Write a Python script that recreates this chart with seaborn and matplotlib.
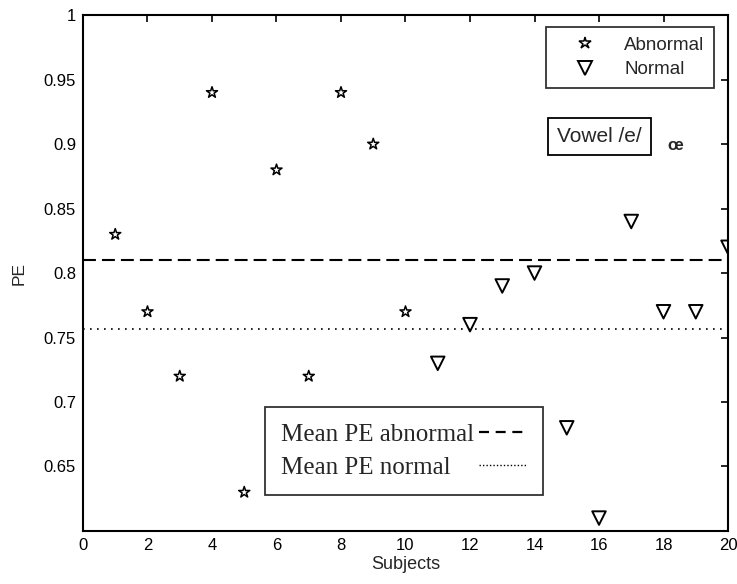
import numpy as np
import pandas as pd
import matplotlib
matplotlib.use("Agg")
import matplotlib.pyplot as plt
from matplotlib.lines import Line2D
import seaborn as sns

# PE per subject
abnormal_subjects = [1, 2, 3, 4, 5, 6, 7, 8, 9, 10]
abnormal_pe = [0.83, 0.77, 0.72, 0.94, 0.63, 0.88, 0.72, 0.94, 0.90, 0.77]
normal_subjects = [11, 12, 13, 14, 15, 16, 17, 18, 19, 20]
normal_pe = [0.73, 0.76, 0.79, 0.80, 0.68, 0.61, 0.84, 0.77, 0.77, 0.82]

x_ticks = [0, 2, 4, 6, 8, 10, 12, 14, 16, 18, 20]
y_ticks = [0.65, 0.7, 0.75, 0.8, 0.85, 0.9, 0.95, 1]
y_tick_labels = ["0.65", "0.7", "0.75", "0.8", "0.85", "0.9", "0.95", "1"]

abn = pd.DataFrame({"Subjects": abnormal_subjects, "PE": abnormal_pe})
nor = pd.DataFrame({"Subjects": normal_subjects, "PE": normal_pe})

sns.set_style("white")
plt.rcParams["font.family"] = ["Liberation Sans", "DejaVu Sans"]

fig = plt.figure(figsize=(7.37, 5.84), dpi=100)
ax = fig.add_axes([0.1126, 0.0908, 0.8752, 0.8832])

sns.scatterplot(data=abn, x="Subjects", y="PE", ax=ax, marker="*", s=70,
                color="black", facecolor="none", edgecolor="black",
                linewidth=1.1, zorder=3)
sns.scatterplot(data=nor, x="Subjects", y="PE", ax=ax, marker="v", s=95,
                color="black", facecolor="none", edgecolor="black",
                linewidth=1.4, zorder=3)

mean_abn = np.mean(abnormal_pe)
mean_nor = np.mean(normal_pe)
ax.axhline(mean_abn, color="black", linestyle=(0, (6.2, 2.9)), linewidth=1.5, zorder=2)
ax.axhline(mean_nor, color="black", linestyle=(0, (1, 3.2)), linewidth=1.2, zorder=2)

ax.set_xlim(0, 20)
ax.set_ylim(0.6, 1.0)
ax.set_xticks(x_ticks)
ax.set_xticklabels([str(t) for t in x_ticks])
ax.set_yticks(y_ticks)
ax.set_yticklabels(y_tick_labels)
ax.tick_params(direction="in", length=5, width=1.2, top=True, right=True,
               labelsize=12, colors="black", pad=5)
for s in ax.spines.values():
    s.set_color("black")
    s.set_linewidth(1.5)
ax.set_xlabel("Subjects", fontsize=13, labelpad=2)
ax.set_ylabel("PE", fontsize=12.5, labelpad=12)

# marker legend
h1 = [Line2D([], [], linestyle="none", marker="*", markersize=9,
             markerfacecolor="none", markeredgecolor="black", markeredgewidth=1.1),
      Line2D([], [], linestyle="none", marker="v", markersize=9.5,
             markerfacecolor="none", markeredgecolor="black", markeredgewidth=1.4)]
leg1 = ax.legend(h1, ["Abnormal", "Normal"], loc="upper right",
                 bbox_to_anchor=(0.978, 0.977), frameon=True, fancybox=False,
                 edgecolor="black", fontsize=13.5, handlelength=3.1,
                 handletextpad=0.55, borderpad=0.5, labelspacing=0.4,
                 borderaxespad=0)
leg1.get_frame().set_linewidth(1.3)
ax.add_artist(leg1)

# mean-line legend (labels on the left, line samples on the right)
h2 = [Line2D([], [], color="black", linestyle=(0, (4.5, 3)), linewidth=1.6),
      Line2D([], [], color="black", linestyle=(0, (1, 1.5)), linewidth=1.0)]
leg2 = ax.legend(h2, ["Mean PE abnormal", "Mean PE normal"], loc="lower left",
                 bbox_to_anchor=(0.282, 0.070), frameon=True, fancybox=False,
                 edgecolor="black", markerfirst=False, handlelength=1.9,
                 handletextpad=0.2, borderpad=0.65, labelspacing=0.42,
                 borderaxespad=0,
                 prop={"family": ["Liberation Serif", "DejaVu Serif"], "size": 18})
leg2.get_frame().set_linewidth(1.3)

# left-align the labels while keeping the line samples in one column
fig.canvas.draw()
renderer = fig.canvas.get_renderer()
widths = [t.get_window_extent(renderer).width for t in leg2.get_texts()]
column = leg2._legend_handle_box.get_children()[0]
column.align = "left"
for row, w in zip(column.get_children(), widths):
    row.sep = row.sep + (max(widths) - w) * 72.0 / fig.dpi

ax.text(14.70, 0.906, "Vowel /e/", ha="left", va="center", fontsize=15,
        bbox=dict(boxstyle="square,pad=0.45", facecolor="white",
                  edgecolor="black", linewidth=1.3))
ax.text(18.36, 0.899, "œ", ha="center", va="center", fontsize=12,
        fontweight="bold")

fig.savefig("out.png", dpi=100)
